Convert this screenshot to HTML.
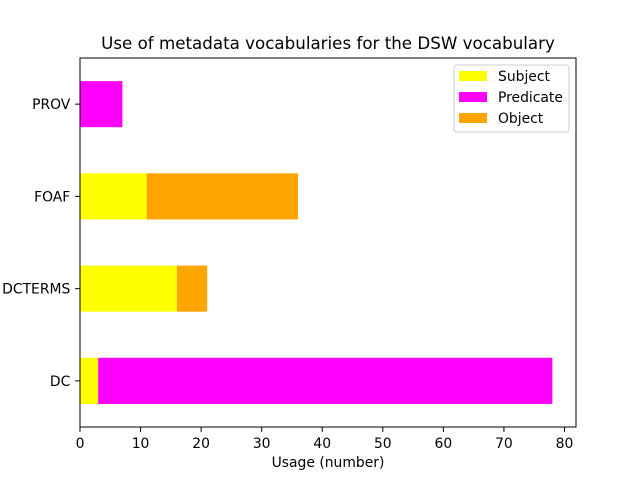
<!DOCTYPE html>
<html><head><meta charset="utf-8"><style>
body{margin:0;background:#fff;font-family:"Liberation Sans","DejaVu Sans",sans-serif;}
svg text{font-family:"DejaVu Sans","Liberation Sans",sans-serif;}
</style></head><body>
<svg id="chart" width="640" height="480" xmlns="http://www.w3.org/2000/svg">
<rect width="640" height="480" fill="#fff"/>
<g id="bars"></g><g id="axes"></g>
</svg>
<script>
const categories=["DC","DCTERMS","FOAF","PROV"];
const subjectVals=[3,16,11,0];
const predicateVals=[75,0,0,7];
const objectVals=[0,5,25,0];
const xTicks=[0,10,20,30,40,50,60,70,80];
const seriesNames=["Subject","Predicate","Object"];
const colors=["#ffff00","#ff00ff","#ffa500"];
const L=80,R=576,T=58,B=427,xMax=81.9;
const NS="http://www.w3.org/2000/svg";
const x=v=>L+v/xMax*(R-L);
const y=i=>B-(i+0.5)/4*(B-T);
const bh=0.5/4*(B-T);
function mk(t,a,p){const e=document.createElementNS(NS,t);for(const k in a)e.setAttribute(k,a[k]);p.appendChild(e);return e;}
const bars=document.getElementById('bars'),axes=document.getElementById('axes');
const series=[subjectVals,predicateVals,objectVals];
categories.forEach((c,i)=>{let acc=0;series.forEach((s,j)=>{const v=s[i];if(v>0){const r=mk('rect',{x:x(acc),y:y(i)-bh/2,width:x(acc+v)-x(acc),height:bh,fill:colors[j]},bars);

}acc+=v;});});
const fr=mk('rect',{x:L,y:T,width:R-L,height:B-T,fill:'none',stroke:'#000','stroke-width':1},axes);

xTicks.forEach(t=>{mk('line',{x1:x(t),x2:x(t),y1:B,y2:B+4.9,stroke:'#000'},axes);const tx=mk('text',{x:x(t),y:B+21,'text-anchor':'middle','font-size':13.9},axes);tx.textContent=t;
});
categories.forEach((c,i)=>{mk('line',{x1:L-4.9,x2:L,y1:y(i),y2:y(i),stroke:'#000'},axes);const tx=mk('text',{x:L-9.7,y:y(i)+5,'text-anchor':'end','font-size':13.9},axes);tx.textContent=c;
});
const xt=mk('text',{x:(L+R)/2,y:467,'text-anchor':'middle','font-size':13.9},axes);xt.textContent="Usage (number)";

const tt=mk('text',{x:(L+R)/2,y:49,'text-anchor':'middle','font-size':16.7},axes);tt.textContent="Use of metadata vocabularies for the DSW vocabulary";

const lg=mk('g',{},axes);
mk('rect',{x:454,y:65,width:115,height:67,fill:'#fff',stroke:'#ccc',rx:3},lg);
seriesNames.forEach((n,j)=>{const yy=76+j*21;mk('rect',{x:459,y:yy-5,width:28,height:10,fill:colors[j]},lg);const tx=mk('text',{x:498,y:yy+5,'font-size':13.9},lg);tx.textContent=n;
});
</script>
</body></html>
